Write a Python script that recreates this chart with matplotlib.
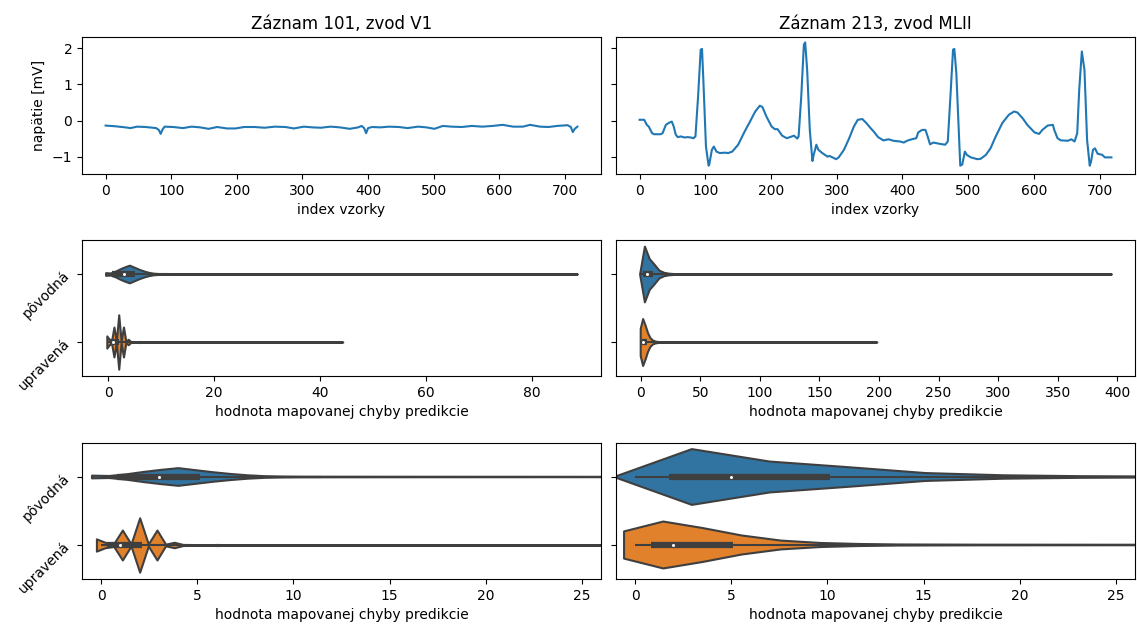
import matplotlib
matplotlib.use("Agg")
import matplotlib.pyplot as plt

# ---------------- data ----------------
titles = ["Záznam 101, zvod V1", "Záznam 213, zvod MLII"]
categories = ["pôvodná", "upravená"]

ecg101_idx = [0, 15, 30, 38, 48, 61, 77, 81, 84, 87, 90, 103, 118, 131, 144, 157, 170, 185,
              198, 211, 227, 242, 258, 274, 287, 302, 315, 328, 343, 357, 372, 385, 390, 394,
              397, 400, 406, 419, 432, 447, 460, 476, 489, 501, 514, 527, 543, 558, 574, 590,
              605, 621, 636, 647, 662, 675, 688, 704, 709, 712, 715, 719]
ecg101_val = [-0.14, -0.16, -0.19, -0.21, -0.17, -0.18, -0.21, -0.26, -0.37, -0.24, -0.17, -0.18,
              -0.21, -0.17, -0.19, -0.23, -0.18, -0.22, -0.22, -0.18, -0.18, -0.20, -0.17, -0.18,
              -0.22, -0.17, -0.19, -0.20, -0.17, -0.19, -0.23, -0.19, -0.15, -0.21, -0.35, -0.21,
              -0.18, -0.19, -0.17, -0.18, -0.21, -0.17, -0.19, -0.23, -0.15, -0.17, -0.18, -0.15,
              -0.17, -0.15, -0.12, -0.17, -0.17, -0.12, -0.17, -0.18, -0.15, -0.13, -0.18, -0.32,
              -0.23, -0.17]

ecg213_idx = [0, 7, 11, 14, 19, 22, 32, 35, 40, 45, 49, 52, 55, 58, 63, 68, 73, 78, 82, 85, 89,
              93, 95, 97, 101, 105, 106, 110, 113, 117, 122, 130, 135, 141, 150, 160, 168, 176,
              183, 187, 193, 201, 206, 210, 217, 224, 232, 235, 240, 242, 246, 250, 252, 255,
              259, 263, 265, 269, 272, 278, 286, 289, 299, 303, 311, 319, 326, 332, 339, 345,
              352, 356, 363, 371, 379, 386, 396, 402, 407, 414, 421, 424, 430, 435, 438, 442,
              447, 458, 465, 469, 473, 477, 479, 482, 486, 488, 491, 495, 498, 504, 514, 519,
              527, 534, 542, 552, 562, 570, 575, 583, 590, 601, 608, 613, 621, 629, 631, 636,
              641, 652, 657, 662, 666, 669, 673, 677, 681, 685, 687, 690, 693, 697, 704, 708, 718]
ecg213_val = [0.02, 0.02, -0.12, -0.17, -0.35, -0.38, -0.38, -0.35, -0.12, -0.06, -0.03, -0.17,
              -0.39, -0.46, -0.44, -0.47, -0.46, -0.47, -0.49, -0.44, 0.66, 1.96, 1.98, 1.13,
              -0.72, -1.25, -1.22, -0.81, -0.72, -0.86, -0.90, -0.89, -0.90, -0.86, -0.67, -0.30,
              -0.03, 0.25, 0.41, 0.37, 0.11, -0.17, -0.24, -0.24, -0.42, -0.49, -0.44, -0.42,
              -0.50, -0.44, 0.66, 2.10, 2.16, 1.40, -0.26, -1.12, -0.95, -0.67, -0.81, -0.90,
              -1.00, -0.98, -1.07, -1.02, -0.81, -0.49, -0.17, 0.02, 0.04, -0.07, -0.22, -0.30,
              -0.46, -0.55, -0.52, -0.56, -0.58, -0.61, -0.56, -0.52, -0.49, -0.33, -0.26, -0.26,
              -0.42, -0.66, -0.61, -0.65, -0.67, -0.58, 0.66, 1.96, 1.98, 1.31, -0.35, -1.25,
              -1.22, -0.86, -0.95, -1.02, -1.07, -1.06, -0.95, -0.77, -0.44, -0.07, 0.16, 0.25,
              0.22, 0.06, -0.12, -0.33, -0.37, -0.26, -0.14, -0.12, -0.26, -0.49, -0.55, -0.56,
              -0.52, -0.58, -0.35, 0.85, 1.91, 1.40, -0.54, -1.25, -1.14, -0.81, -0.77, -0.92,
              -0.95, -1.02, -1.02]

# violin density profiles (value grid, half-width in category units)
v101_orig_x = [-0.48, 0.42, 1.32, 2.22, 3.12, 4.02, 4.92, 5.82, 6.72, 7.62, 8.52, 9.42, 10.32,
               15, 25, 40, 60, 80, 88.6]
v101_orig_w = [0.02, 0.015, 0.04, 0.075, 0.105, 0.13, 0.10, 0.07, 0.045, 0.025, 0.012, 0.007,
               0.005, 0.004, 0.003, 0.003, 0.003, 0.003, 0.0]
v101_new_x = [-0.25, 0.2, 0.65, 1.1, 1.55, 2.0, 2.45, 2.9, 3.35, 3.8, 4.25, 4.7, 5.15, 5.6,
              6.05, 6.5, 7.0, 10, 20, 30, 40, 44.3]
v101_new_w = [0.09, 0.04, 0.02, 0.22, 0.015, 0.40, 0.015, 0.22, 0.012, 0.04, 0.008, 0.005,
              0.004, 0.005, 0.008, 0.004, 0.003, 0.003, 0.003, 0.003, 0.003, 0.0]
v213_orig_x = [-1.1, 2.95, 7.0, 11.05, 15.1, 19.15, 23.2, 27.25, 35, 50, 100, 200, 300, 395.2]
v213_orig_w = [0.0, 0.41, 0.227, 0.145, 0.058, 0.025, 0.012, 0.007, 0.005, 0.004, 0.003,
               0.003, 0.003, 0.0]
v213_new_x = [-0.58, 1.46, 3.5, 5.54, 7.58, 9.62, 11.66, 13.7, 17.8, 25, 50, 100, 150, 198.2]
v213_new_w = [0.2, 0.345, 0.25, 0.14, 0.065, 0.03, 0.015, 0.008, 0.005, 0.004, 0.003, 0.003,
              0.003, 0.0]

# inner box statistics [pôvodná, upravená]
box101_q1 = [0.82, 0.28]
box101_med = [3.0, 1.0]
box101_q3 = [5.13, 2.1]
box101_lo = [0.0, 0.0]
box101_hi = [11.5, 4.8]
box213_q1 = [1.76, 0.8]
box213_med = [4.97, 1.94]
box213_q3 = [10.14, 5.08]
box213_lo = [0.0, 0.0]
box213_hi = [22.7, 11.5]

# ---------------- style ----------------
line_color = "#1f77b4"
violin_colors = ["#3274a1", "#e1812c"]
gray = "#3f3f3f"

W, H = 1137, 630
fig = plt.figure(figsize=(W / 100, H / 100), dpi=100)


def add_ax(x0, y0, x1, y1, **kw):
    return fig.add_axes([x0 / W, 1 - y1 / H, (x1 - x0) / W, (y1 - y0) / H], **kw)


cols = [(82, 601), (616, 1135)]
rows = [(37, 174), (240, 376), (443, 579)]

axes = [[None, None] for _ in range(3)]
for r, (y0, y1) in enumerate(rows):
    for c, (x0, x1) in enumerate(cols):
        if c == 1:
            axes[r][c] = add_ax(x0, y0, x1, y1, sharey=axes[r][0])
        else:
            axes[r][c] = add_ax(x0, y0, x1, y1)

# top row: signals
for c, (xi, yv) in enumerate([(ecg101_idx, ecg101_val), (ecg213_idx, ecg213_val)]):
    ax = axes[0][c]
    ax.plot(xi, yv, color=line_color, lw=1.5)
    ax.set_title(titles[c], fontsize=12)
    ax.set_xlabel("index vzorky")
    ax.set_xticks(range(0, 800, 100))
axes[0][0].set_ylim(-1.48, 2.31)
axes[0][0].set_yticks([-1, 0, 1, 2])
axes[0][0].set_ylabel("napätie [mV]")
axes[0][1].tick_params(labelleft=False)

violins = [
    [(v101_orig_x, v101_orig_w), (v101_new_x, v101_new_w)],
    [(v213_orig_x, v213_orig_w), (v213_new_x, v213_new_w)],
]
boxes = [
    (box101_q1, box101_med, box101_q3, box101_lo, box101_hi),
    (box213_q1, box213_med, box213_q3, box213_lo, box213_hi),
]


def draw_violins(ax, c):
    q1, med, q3, lo, hi = boxes[c]
    for i, (vx, vw) in enumerate(violins[c]):
        lower = [i - w for w in vw]
        upper = [i + w for w in vw]
        ax.fill_between(vx, lower, upper, facecolor=violin_colors[i], edgecolor=gray,
                        linewidth=1.5, zorder=1)
        ax.plot([lo[i], hi[i]], [i, i], color=gray, lw=1.5, solid_capstyle="butt", zorder=2)
        ax.plot([q1[i], q3[i]], [i, i], color=gray, lw=4.5, solid_capstyle="butt", zorder=2)
        ax.scatter([med[i]], [i], s=9, color="white", edgecolor=gray, linewidth=0.8, zorder=3)


for r in (1, 2):
    for c in (0, 1):
        ax = axes[r][c]
        draw_violins(ax, c)
        ax.set_xlabel("hodnota mapovanej chyby predikcie")
        if r == 2:
            ax.set_xlim(-1, 26)
            ax.set_xticks([0, 5, 10, 15, 20, 25])
    axes[r][0].set_ylim(1.5, -0.5)
    axes[r][0].set_yticks([0, 1])
    axes[r][0].set_yticklabels(categories, rotation=45)
    axes[r][1].tick_params(labelleft=False)

axes[1][0].set_xticks([0, 20, 40, 60, 80])
axes[1][1].set_xticks(range(0, 401, 50))

fig.savefig("out.png", dpi=100)
